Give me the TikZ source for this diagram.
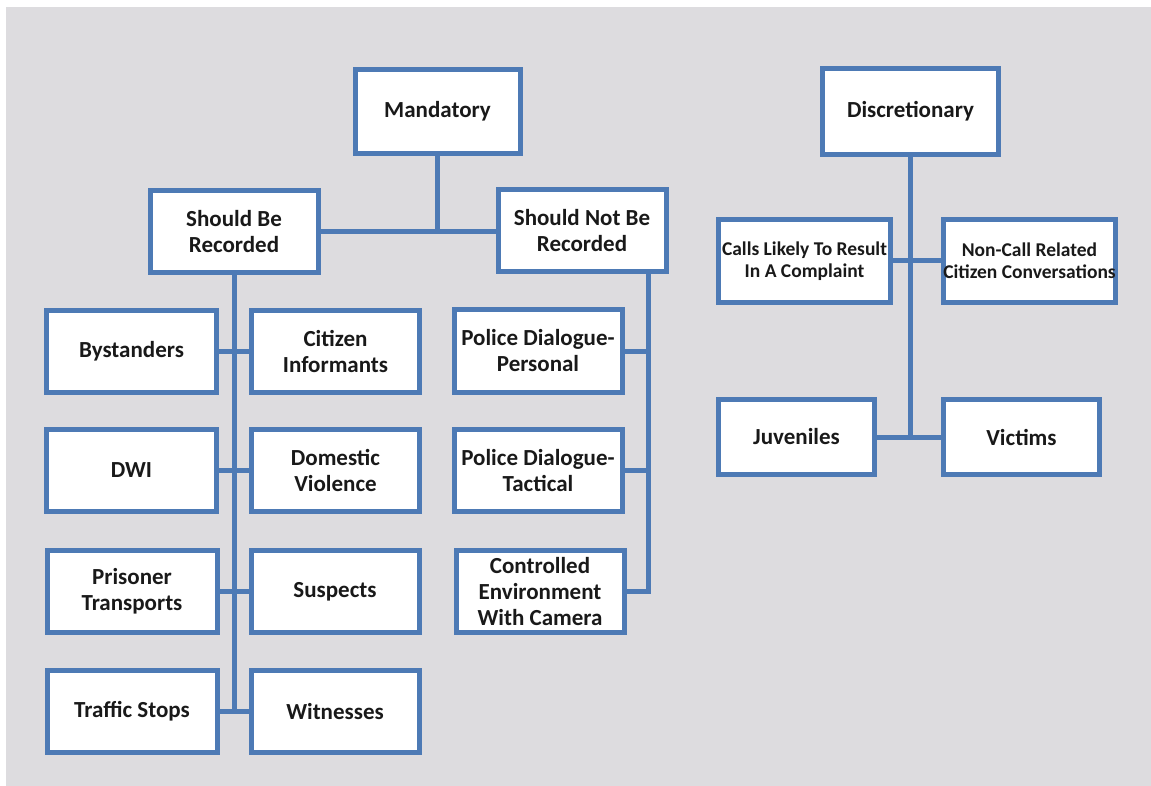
\documentclass[tikz,border=0pt]{standalone}
\usepackage{fontspec}
\setmainfont{Carlito}
\usepackage{tikz}
\usetikzlibrary{positioning}
\definecolor{boxblue}{RGB}{77,122,181}
\definecolor{paper}{RGB}{221,220,223}

\begin{document}
\begin{tikzpicture}[x=1pt,y=-1pt,
    box/.style={draw=boxblue, line width=5pt, fill=white, align=center, inner sep=0pt,
      minimum width=168pt, minimum height=82pt, text=black!90,
      font=\bfseries\fontsize{23}{26}\selectfont},
    smallbox/.style={box, font=\bfseries\fontsize{19.5}{22}\selectfont},
    link/.style={draw=boxblue, line width=5pt}]

                    \useasboundingbox (0,0) rectangle (1151,786);
                    \fill[paper] (6,7) rectangle (1151,786);

                    % mandatory side
                    \node[box, minimum width=165pt, minimum height=84pt] (mand) at (437.5,111.5) {Mandatory};
                    \node[box] (sbr) at (234,231.5) {Should Be\\Recorded};
                    \node[box] (snbr) at (582,230.5) {Should Not Be\\Recorded};

                    \node[box, minimum width=170pt] (bys) at (131.5,351.5) {Bystanders};
                    \node[box] (cit) at (335.5,351.5) {Citizen\\Informants};
                    \node[box, minimum width=170pt] (dwi) at (131.5,470.5) {DWI};
                    \node[box] (dom) at (335.5,470.5) {Domestic\\Violence};
                    \node[box, minimum width=170pt] (pris) at (132,591.5) {Prisoner\\Transports};
                    \node[box] (susp) at (335,591.5) {Suspects};
                    \node[box, minimum width=170pt] (traf) at (132,711.5) {Traffic Stops};
                    \node[box] (wit) at (335,711.5) {Witnesses};

                    \node[box] (pers) at (538,351) {Police Dialogue-\\Personal};
                    \node[box] (tact) at (538,470.5) {Police Dialogue-\\Tactical};
                    \node[box] (ctrl) at (540,591.5) {Controlled\\Environment\\With Camera};

                    % discretionary side
                    \node[box, minimum width=176pt, minimum height=86pt] (disc) at (910.5,111.5) {Discretionary};
                    \node[smallbox, minimum width=172pt, minimum height=83pt] (calls) at (804.5,261) {Calls Likely To Result\\In A Complaint};
                    \node[smallbox, minimum width=172pt, minimum height=83pt] (noncall) at (1029.5,261) {Non-Call Related\\\makebox[160pt]{Citizen Conversations}};
                    \node[box, minimum width=156pt, minimum height=75pt] (juv) at (796.5,437) {Juveniles};
                    \node[box, minimum width=156pt, minimum height=75pt] (vic) at (1021.5,437) {Victims};

                    \coordinate (sntop) at (648,271.5);

                    \draw[link] (mand.south) -- (mand.south |- sbr.east);
                    \draw[link] (sbr.east) -- (snbr.west |- sbr.east);

                    \draw[link] (sbr.south) -- (sbr.south |- traf.east);
                    \draw[link] (bys.east) -- (cit.west);
                    \draw[link] (dwi.east) -- (dom.west);
                    \draw[link] (pris.east) -- (susp.west);
                    \draw[link] (traf.east) -- (wit.west);

                    \draw[link] (sntop) |- (ctrl.east);
                    \draw[link] (pers.east) -- (pers.east -| sntop);
                    \draw[link] (tact.east) -- (tact.east -| sntop);

                    \draw[link] (disc.south) -- (disc.south |- juv.east);
                    \draw[link] (calls.east) -- (noncall.west);
                    \draw[link] (juv.east) -- (vic.west);

                  \end{tikzpicture}
\end{document}
